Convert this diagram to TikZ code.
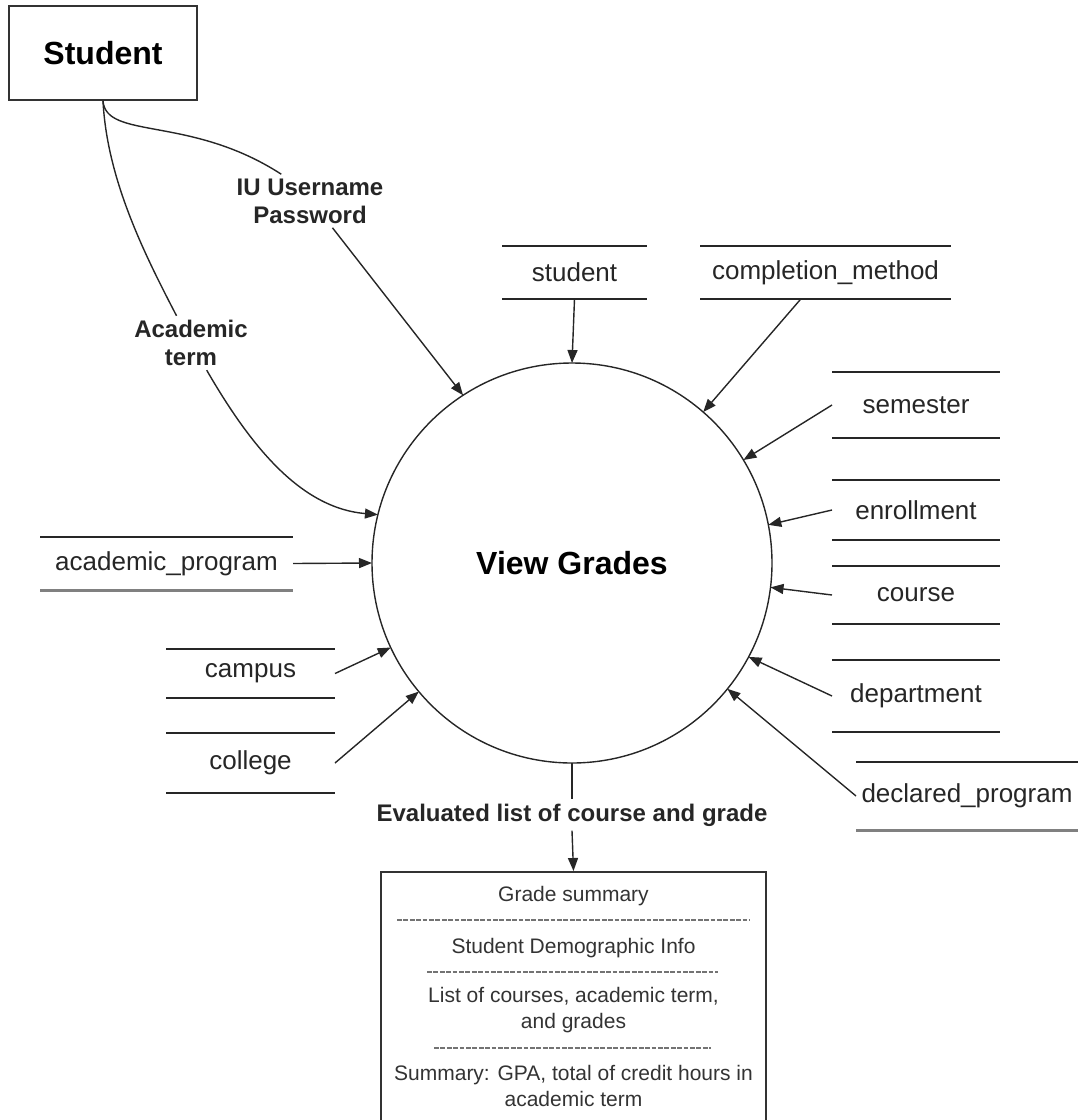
\documentclass[tikz,border=0pt]{standalone}
\usepackage{fontspec}
\setmainfont{Liberation Sans}
\usetikzlibrary{arrows.meta}

\begin{document}
\begin{tikzpicture}[x=0.5pt, y=-0.5pt,
    wire/.style={draw=black!85, line width=0.7pt},
    flow/.style={wire, -{Triangle[length=6.5pt, width=5pt]}},
    store/.style={inner sep=0pt, outer sep=0pt, text=black!85,
        font=\fontsize{13}{15}\selectfont},
    label/.style={inner sep=2pt, align=center, text=black!85,
        font=\bfseries\fontsize{12}{14}\selectfont},
    dashrule/.style={draw=black!55, line width=0.7pt, dash pattern=on 2.4pt off 0.8pt}]
    \useasboundingbox (0,0) rectangle (1078,1120);

    \node[draw=black!80, line width=0.8pt, minimum width=94pt, minimum height=47pt,
        font=\bfseries\fontsize{16}{19}\selectfont] (stud) at (103,53) {Student};
    \node[circle, wire, minimum size=200pt, inner sep=0pt, outer sep=0pt,
        font=\bfseries\fontsize{16}{19}\selectfont] (vg) at (572,563) {View Grades};

    % data stores
    \node[store, minimum width=72.5pt, minimum height=26.5pt] (st) at (574.5,272.5) {student};
    \node[store, minimum width=125.5pt, minimum height=26.5pt] (cm) at (825.5,272.5) {completion\_method};
    \node[store, minimum width=84pt, minimum height=33pt] (sem) at (916,405) {semester};
    \node[store, minimum width=84pt, minimum height=30pt] (enr) at (916,510) {enrollment};
    \node[store, minimum width=84pt, minimum height=29pt] (crs) at (916,595) {course};
    \node[store, minimum width=84pt, minimum height=36pt] (dep) at (916,696) {department};
    \node[store, minimum width=111pt, minimum height=34pt] (dec) at (967,796) {declared\_program};
    \node[store, minimum width=126.5pt, minimum height=26.5pt] (ap) at (166.5,563.5) {academic\_program};
    \node[store, minimum width=84.5pt, minimum height=24.5pt] (camp) at (250.5,673.5) {campus};
    \node[store, minimum width=84.5pt, minimum height=30pt] (coll) at (250.5,763) {college};

    \foreach \s in {st,cm,sem,enr,crs,dep,camp,coll}
        \draw[wire] (\s.north west) -- (\s.north east) (\s.south west) -- (\s.south east);
    \foreach \s in {ap,dec} {
        \draw[wire] (\s.north west) -- (\s.north east);
        \draw[draw=black!50, line width=1.5pt] (\s.south west) -- (\s.south east);
    }

    \draw[flow] (st.south) -- (vg.90);
    \draw[flow] (cm.227) -- (vg.49);
    \draw[flow] (sem.west) -- (vg.31);
    \draw[flow] (enr.west) -- (vg.11);
    \draw[flow] (crs.west) -- (vg.-7);
    \draw[flow] (dep.west) -- (vg.-28);
    \draw[flow] (dec.west) -- (vg.-39);
    \draw[flow] (ap.east) -- (vg.180);
    \draw[flow] (camp.east) -- (vg.205);
    \draw[flow] (coll.east) -- (vg.220);

    % inputs from the student
    \node[label] (iu) at (310,201) {IU Username\\Password};
    \node[label] (term) at (191,343) {Academic\\term};
    \draw[wire] (stud.south) .. controls (106,140) and (190,115) .. (iu.137);
    \draw[flow] (iu.-50) -- (vg.123);
    \draw[wire] (stud.south) .. controls (107,180) and (145,255) .. (term.118);
    \draw[flow] (term.-60) .. controls (250,445) and (300,508) .. (vg.166);

    % output
    \node[label] (ev) at (572,815) {Evaluated list of course and grade};
    \node[draw=black!80, line width=0.8pt, anchor=north, minimum width=192.5pt,
        inner ysep=7pt, align=center, text=black!80,
        font=\fontsize{10.5}{13}\selectfont] (sum) at (573.5,871)
        {Grade summary\\[13pt]
         Student Demographic Info\\[11.5pt]
         List of courses, academic term,\\
         and grades\\[13pt]
         Summary: GPA, total of credit hours in\\
         academic term\\
         \strut};
    \draw[wire] (vg.south) -- (ev.north);
    \draw[flow] (ev.south) -- (sum.north);

    \draw[dashrule] (397,920) -- (750,920);
    \draw[dashrule] (427,972) -- (718,972);
    \draw[dashrule] (434,1048) -- (711,1048);
\end{tikzpicture}
\end{document}
